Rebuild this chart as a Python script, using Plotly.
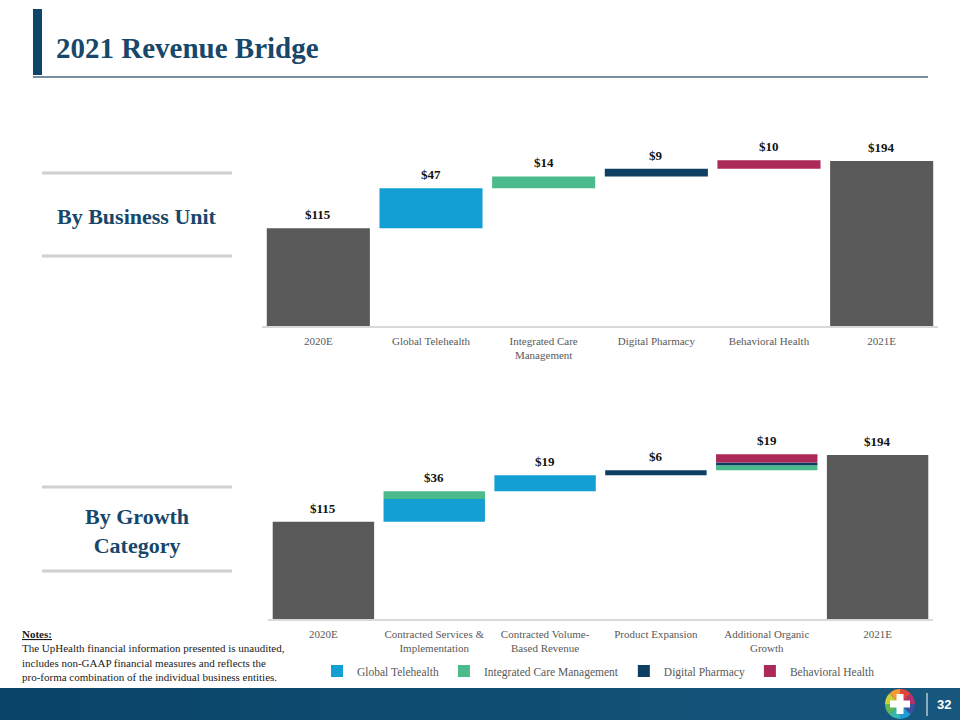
import plotly.graph_objects as go
import numpy as np

# ---------------- data ----------------
top_categories = ["2020E", "Global Telehealth", "Integrated Care<br>Management",
                  "Digital Pharmacy", "Behavioral Health", "2021E"]
top_values = [115, 47, 14, 9, 10, 194]
top_kinds = ["total", "delta", "delta", "delta", "delta", "total"]

bottom_categories = ["2020E", "Contracted Services &<br>Implementation",
                     "Contracted Volume-<br>Based Revenue", "Product Expansion",
                     "Additional Organic<br>Growth", "2021E"]
bottom_totals = [115, None, None, None, None, 194]
bottom_labels = ["$115", "$36", "$19", "$6", "$19", "$194"]
units = ["Global Telehealth", "Integrated Care Management", "Digital Pharmacy", "Behavioral Health"]
bu_global_telehealth = [0, 27, 19, 0, 0, 0]
bu_integrated_care = [0, 9, 0, 0, 6, 0]
bu_digital_pharmacy = [0, 0, 0, 6, 3, 0]
bu_behavioral_health = [0, 0, 0, 0, 10, 0]

# ---------------- styles ----------------
GRAY = "#595959"
COLORS = {"Global Telehealth": "#139fd4", "Integrated Care Management": "#4bbb8b",
          "Digital Pharmacy": "#0e3f63", "Behavioral Health": "#ab2a5a"}
NAVY = "#0f4569"
SERIF = "Liberation Serif"

W, H = 960, 720
def px_x(x):
    return x / W
def px_y(y):
    return 1 - y / H

fig = go.Figure()

# ---------------- top chart (by business unit) ----------------
top_base = []
top_colors = []
running = 0
for i, (v, k) in enumerate(zip(top_values, top_kinds)):
    if k == "total":
        top_base.append(0)
        running = v
        top_colors.append(GRAY)
    else:
        top_base.append(running)
        running += v
        top_colors.append(COLORS[units[i - 1]])

fig.add_trace(go.Bar(x=top_categories, y=top_values, base=top_base,
                     marker=dict(color=top_colors, line=dict(width=0)),
                     showlegend=False, xaxis="x", yaxis="y", hoverinfo="skip"))
for c, v, b in zip(top_categories, top_values, top_base):
    fig.add_annotation(x=c, y=b + v, xref="x", yref="y", text=f"${v}",
                       showarrow=False, yanchor="bottom", yshift=4,
                       font=dict(family=SERIF, size=13, color="#111111", weight="bold"))

# ---------------- bottom chart (by growth category) ----------------
series = [bu_global_telehealth, bu_integrated_care, bu_digital_pharmacy, bu_behavioral_health]
n = len(bottom_categories)
cat_start = []
running = 0
for i in range(n):
    if bottom_totals[i] is not None:
        cat_start.append(0)
        running = bottom_totals[i]
    else:
        cat_start.append(running)
        running += sum(s[i] for s in series)

fig.add_trace(go.Bar(x=bottom_categories,
                     y=[t if t is not None else 0 for t in bottom_totals],
                     base=[0] * n, marker=dict(color=GRAY, line=dict(width=0)),
                     showlegend=False, xaxis="x2", yaxis="y2", hoverinfo="skip"))
stack = list(cat_start)
for name, s in zip(units, series):
    fig.add_trace(go.Bar(x=bottom_categories, y=s, base=list(stack), name=name,
                         marker=dict(color=COLORS[name], line=dict(width=0)),
                         xaxis="x2", yaxis="y2", hoverinfo="skip"))
    stack = [a + b for a, b in zip(stack, s)]
tops = []
for i in range(n):
    tops.append(bottom_totals[i] if bottom_totals[i] is not None else stack[i])
for c, t, lab in zip(bottom_categories, tops, bottom_labels):
    fig.add_annotation(x=c, y=t, xref="x2", yref="y2", text=lab,
                       showarrow=False, yanchor="bottom", yshift=4,
                       font=dict(family=SERIF, size=13, color="#111111", weight="bold"))

axis_common = dict(type="category", showgrid=False, zeroline=False, showline=True,
                   linecolor="#d9d9d9", linewidth=1.5, ticks="", ticklabelstandoff=4,
                   tickfont=dict(family=SERIF, size=11, color=GRAY), fixedrange=True)
yaxis_common = dict(visible=False, showgrid=False, zeroline=False, range=[0, 220], fixedrange=True)

fig.update_layout(
    width=W, height=H, margin=dict(l=0, r=0, t=0, b=0),
    paper_bgcolor="white", plot_bgcolor="white",
    barmode="overlay", bargap=0.085,
    xaxis=dict(domain=[px_x(262), px_x(938)], anchor="y", **axis_common),
    yaxis=dict(domain=[px_y(326), px_y(139)], anchor="x", **yaxis_common),
    xaxis2=dict(domain=[px_x(268), px_x(933)], anchor="y2", **axis_common),
    yaxis2=dict(domain=[px_y(619), px_y(433)], anchor="x2", **yaxis_common),
    showlegend=True,
    legend=dict(orientation="h", x=px_x(317), y=px_y(671), xanchor="left", yanchor="middle",
                font=dict(family=SERIF, size=11.5, color=GRAY), itemwidth=30,
                bgcolor="rgba(0,0,0,0)", traceorder="normal", itemclick=False, itemdoubleclick=False),
    font=dict(family=SERIF),
)

shapes = []
# title accent bar and rule
shapes.append(dict(type="rect", xref="paper", yref="paper", x0=px_x(33), x1=px_x(42),
                   y0=px_y(75), y1=px_y(9), fillcolor=NAVY, line=dict(width=0)))
shapes.append(dict(type="line", xref="paper", yref="paper", x0=px_x(33), x1=px_x(928),
                   y0=px_y(77), y1=px_y(77), line=dict(color="#4a6a82", width=1.5)))
# section separator lines
for yy in [173, 256, 487, 571]:
    shapes.append(dict(type="line", xref="paper", yref="paper", x0=px_x(42), x1=px_x(232),
                       y0=px_y(yy), y1=px_y(yy), line=dict(color="#d0d0d0", width=3)))
# footer band (approximate gradient with strips)
c0 = np.array([0x0a, 0x44, 0x67])
c1 = np.array([0x17, 0x57, 0x7e])
nstrips = 24
for k in range(nstrips):
    t = k / (nstrips - 1)
    col = (c0 * (1 - t) + c1 * t).astype(int)
    shapes.append(dict(type="rect", xref="paper", yref="paper",
                       x0=k / nstrips, x1=(k + 1) / nstrips + 0.001,
                       y0=0, y1=px_y(688), fillcolor="rgb(%d,%d,%d)" % tuple(col),
                       line=dict(width=0), layer="below"))
# logo cross + separator
shapes.append(dict(type="rect", xref="paper", yref="paper", x0=px_x(890), x1=px_x(910),
                   y0=px_y(707.5), y1=px_y(700.5), fillcolor="white", line=dict(width=0), layer="above"))
shapes.append(dict(type="rect", xref="paper", yref="paper", x0=px_x(896.5), x1=px_x(903.5),
                   y0=px_y(714), y1=px_y(694), fillcolor="white", line=dict(width=0), layer="above"))
shapes.append(dict(type="line", xref="paper", yref="paper", x0=px_x(927), x1=px_x(927),
                   y0=px_y(716), y1=px_y(693), line=dict(color="white", width=1)))
fig.update_layout(shapes=shapes)

# logo circle
logo_colors = ["#e2443c", "#b3306b", "#3d4f9e", "#1f9bd7", "#38b7ad", "#62b857", "#c9d13b", "#f39b33"]
fig.add_trace(go.Pie(values=[1] * 8, marker=dict(colors=logo_colors, line=dict(width=0)),
                     domain=dict(x=[px_x(885), px_x(915)], y=[px_y(719), px_y(689)]),
                     sort=False, direction="clockwise", rotation=0, textinfo="none",
                     hoverinfo="skip", showlegend=False))

# ---------------- texts ----------------
fig.add_annotation(x=px_x(54), y=px_y(48), xref="paper", yref="paper", xanchor="left",
                   yanchor="middle", showarrow=False, text="2021 Revenue Bridge",
                   font=dict(family=SERIF, size=29, color="#17476a", weight="bold"))
fig.add_annotation(x=px_x(137), y=px_y(216), xref="paper", yref="paper", xanchor="center",
                   yanchor="middle", showarrow=False, text="By Business Unit",
                   font=dict(family=SERIF, size=22, color="#17476a", weight="bold"))
fig.add_annotation(x=px_x(137), y=px_y(531), xref="paper", yref="paper", xanchor="center",
                   yanchor="middle", showarrow=False, text="By Growth<br>Category",
                   font=dict(family=SERIF, size=22, color="#17476a", weight="bold"))
fig.add_annotation(x=px_x(20), y=px_y(626), xref="paper", yref="paper", xanchor="left",
                   yanchor="top", showarrow=False, align="left",
                   text=("<b><u>Notes:</u></b><br>The UpHealth financial information presented is unaudited,"
                         "<br>includes non-GAAP financial measures and reflects the"
                         "<br>pro-forma combination of the individual business entities."),
                   font=dict(family=SERIF, size=11, color="#1a1a1a"))
fig.add_annotation(x=px_x(944), y=px_y(704), xref="paper", yref="paper", xanchor="center",
                   yanchor="middle", showarrow=False, text="<b>32</b>",
                   font=dict(family="Liberation Sans", size=13, color="white"))

fig.write_html("out.html")
